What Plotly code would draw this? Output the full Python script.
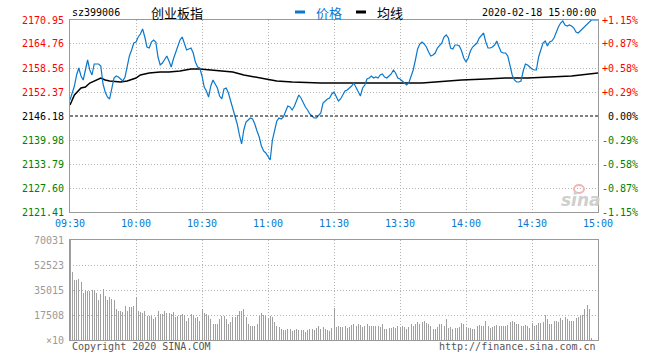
import plotly.graph_objects as go

# ---------------- data ----------------
minutes = list(range(241))  # 0 = 09:30, 120 = 11:30/13:00, 240 = 15:00

price = [
    2150.31, 2152.11, 2153.92, 2156.76, 2158.56, 2156.50, 2155.47, 2158.05, 2160.63, 2158.05,
    2156.76, 2159.60, 2159.60, 2159.60, 2159.08, 2154.44, 2152.37, 2151.08, 2150.57, 2153.66,
    2155.98, 2156.50, 2156.24, 2155.73, 2155.21, 2156.24, 2159.08, 2161.66, 2163.21, 2165.01,
    2165.27, 2166.56, 2167.34, 2168.63, 2166.56, 2163.98, 2163.72, 2165.27, 2165.79, 2165.27,
    2161.40, 2159.34, 2159.85, 2160.63, 2161.66, 2160.37, 2158.82, 2160.89, 2162.43, 2164.50,
    2165.79, 2166.56, 2165.01, 2163.21, 2163.47, 2163.72, 2162.43, 2160.11, 2158.82, 2158.56,
    2156.50, 2153.66, 2152.63, 2151.08, 2153.92, 2155.47, 2154.44, 2153.40, 2151.34, 2150.57,
    2153.15, 2153.40, 2152.11, 2150.05, 2148.24, 2145.92, 2144.12, 2141.28, 2138.96, 2142.57,
    2144.63, 2145.15, 2145.66, 2145.41, 2144.12, 2142.31, 2140.76, 2138.44, 2137.15, 2136.63,
    2135.60, 2134.83, 2139.99, 2142.83, 2144.89, 2145.66, 2145.41, 2145.92, 2147.47, 2148.76,
    2148.50, 2147.73, 2148.76, 2150.05, 2151.60, 2150.82, 2149.53, 2148.50, 2147.73, 2146.70,
    2146.18, 2145.66, 2145.66, 2146.44, 2146.95, 2149.53, 2150.05, 2150.57, 2150.82, 2151.86,
    2152.37,
    2151.34, 2150.05, 2150.57, 2151.60, 2152.63, 2152.89, 2153.40, 2153.92, 2154.69, 2153.66,
    2152.37, 2151.34, 2153.40, 2154.18, 2155.73, 2155.98, 2156.50, 2155.98, 2156.24, 2155.98,
    2156.76, 2157.02, 2156.24, 2155.98, 2156.50, 2157.02, 2158.05, 2157.27, 2155.98, 2155.73,
    2155.21, 2154.69, 2154.18, 2154.69, 2156.24, 2158.05, 2160.63, 2163.47, 2164.76, 2165.27,
    2164.76, 2163.98, 2162.69, 2161.66, 2161.92, 2162.43, 2163.72, 2164.50, 2165.01, 2166.56,
    2167.08, 2166.30, 2163.72, 2163.47, 2164.50, 2164.50, 2164.24, 2162.95, 2161.14, 2160.11,
    2161.14, 2162.95, 2163.98, 2164.50, 2165.01, 2166.30, 2166.82, 2167.59, 2165.27, 2163.72,
    2163.72, 2163.98, 2164.50, 2165.53, 2163.98, 2162.69, 2162.43, 2162.43, 2161.66, 2159.08,
    2156.76, 2155.47, 2154.95, 2154.95, 2155.21, 2157.79, 2159.60, 2159.34, 2158.82, 2158.31,
    2158.05, 2158.05, 2161.40, 2163.21, 2165.01, 2165.53, 2164.24, 2165.27, 2165.53, 2166.30,
    2167.85, 2169.14, 2170.17, 2170.69, 2169.66, 2169.40, 2169.66, 2169.40, 2168.88, 2167.85,
    2167.59, 2168.11, 2168.63, 2169.14, 2169.66, 2170.43, 2170.95, 2170.95, 2170.95, 2170.95,
]

avg_minutes = [0, 2, 5, 7, 9, 11, 14, 16, 18, 23, 26, 30, 32, 36, 41, 45, 50, 55, 59, 64,
               68, 74, 79, 85, 89, 94, 101, 114, 124, 141, 150, 160, 169, 178, 189, 198,
               208, 219, 228, 240]
avg_price = [2149.02, 2151.60, 2153.40, 2153.66, 2154.69, 2155.21, 2155.98, 2155.47, 2155.21,
             2154.95, 2155.21, 2155.98, 2156.76, 2157.27, 2157.53, 2157.53, 2157.79, 2158.31,
             2158.31, 2158.05, 2157.79, 2157.53, 2156.76, 2156.24, 2155.73, 2155.21, 2154.95,
             2154.69, 2154.69, 2154.69, 2154.69, 2154.69, 2155.08, 2155.47, 2155.73, 2155.98,
             2155.98, 2156.24, 2156.50, 2157.27]

volume = [
    70031, 47300, 42200, 41700, 43000, 40400, 33000, 35000, 34000, 34000,
    35000, 35000, 33000, 28000, 32000, 36000, 31000, 28000, 30000, 29000,
    28000, 22000, 20000, 20000, 19500, 24000, 20000, 23000, 23000, 24000,
    30000, 20000, 19500, 19000, 20000, 17000, 17000, 16500, 15000, 16000,
    20500, 18500, 18000, 20000, 19000, 19000, 18000, 19500, 16000, 16500,
    17500, 18000, 17500, 13000, 15500, 18500, 17500, 15500, 16000, 13500,
    22000, 19000, 18000, 16500, 15000, 11500, 11500, 11500, 15000, 17000,
    17000, 14500, 11000, 12500, 16000, 16000, 17500, 20000, 20000, 22000,
    16000, 11500, 9500, 9500, 9500, 11500, 17000, 19000, 17500, 17000,
    15500, 16500, 16000, 12500, 9500, 9000, 8000, 7000, 7000, 8000,
    8000, 6000, 7000, 8000, 7000, 7000, 7000, 5500, 7000, 7500,
    8000, 7000, 8500, 9500, 8000, 9000, 8000, 7000, 6500, 8500,
    22400,
    9000, 9500, 9000, 9000, 10000, 8500, 9000, 10500, 11500, 10000,
    11500, 10500, 9000, 9500, 11000, 10000, 10000, 10000, 10000, 10000,
    9000, 11000, 8000, 8000, 8500, 8500, 9000, 8500, 9500, 9000,
    10000, 9000, 8000, 9000, 11000, 10000, 11500, 12500, 11000, 12500,
    13000, 12000, 11000, 9500, 8000, 8000, 9000, 11500, 11500, 10000,
    14500, 8500, 9000, 8000, 8500, 8500, 9000, 12000, 11000, 9000,
    8500, 8500, 8000, 7500, 9500, 10500, 10000, 10000, 13500, 10000,
    8500, 9000, 9500, 10500, 9500, 10000, 10000, 9500, 10500, 12500,
    13500, 12500, 11000, 11000, 10000, 9500, 10500, 10000, 8500, 12000,
    10000, 10500, 12000, 12000, 12500, 17500, 14500, 11000, 11000, 13000,
    13500, 12500, 15500, 14000, 16000, 14500, 13500, 13000, 13000, 15500,
    16000, 16500, 17500, 21500, 24500, 21500, 1500, 0, 0, 0,
]

time_ticks = [0, 30, 60, 90, 120, 150, 180, 210, 240]
time_labels = ["09:30", "10:00", "10:30", "11:00", "11:30", "13:30", "14:00", "14:30", "15:00"]
price_ticks = [2170.95, 2164.76, 2158.56, 2152.37, 2146.18, 2139.98, 2133.79, 2127.60, 2121.41]
pct_labels = ["+1.15%", "+0.87%", "+0.58%", "+0.29%", "0.00%", "-0.29%", "-0.58%", "-0.87%", "-1.15%"]
vol_ticks = [70031, 52523, 35015, 17508, 0]
vol_labels = ["70031", "52523", "35015", "17508", "×10"]
prev_close = 2146.18

# ---------------- styling ----------------
BLUE = "#0a78cc"
RED = "#ff0000"
GREEN = "#008000"
GRID = "#b4b4b4"
BORDER = "#999999"
MONO = "DejaVu Sans Mono"
CJK = "Noto Sans CJK SC"

W, H = 660, 360
# plot area in window pixels: x 70..598, y 20..340
L, R, T, B = 70, 660 - 598, 20, 360 - 340
PW = W - L - R
PH = H - T - B


def px(xpix):
    """window x pixel -> paper coordinate"""
    return (xpix - L) / PW


def py(ypix):
    """window y pixel -> paper coordinate"""
    return (H - B - ypix) / PH


fig = go.Figure()
fig.add_trace(go.Bar(x=minutes, y=volume, xaxis="x2", yaxis="y2", width=0.45,
                     marker=dict(color="#a0a0a0", line=dict(width=0)), hoverinfo="skip"))
fig.add_trace(go.Scatter(x=avg_minutes, y=avg_price, mode="lines",
                         line=dict(color="#000000", width=1.5)))
fig.add_trace(go.Scatter(x=minutes, y=price, mode="lines",
                         line=dict(color=BLUE, width=1.2)))

axis_common = dict(showgrid=True, gridcolor=GRID, griddash="1px,2px", gridwidth=1,
                   showline=True, mirror=True, linecolor=BORDER, linewidth=1,
                   zeroline=False, showticklabels=False, ticks="", fixedrange=True)

fig.update_layout(
    width=W, height=H, autosize=False,
    margin=dict(l=L, r=R, t=T, b=B, pad=0),
    paper_bgcolor="white", plot_bgcolor="white",
    showlegend=False, bargap=0, hovermode=False,
    font=dict(family=MONO, size=10, color="#000"),
    xaxis=dict(domain=[0, 1], range=[0, 240], anchor="y", tickmode="array",
               tickvals=time_ticks, **axis_common),
    yaxis=dict(domain=[py(212), 1.0], range=[price_ticks[-1], price_ticks[0]], anchor="x",
               tickmode="array", tickvals=[v for v in price_ticks if v != prev_close],
               **axis_common),
    xaxis2=dict(domain=[0, 1], range=[0, 240], anchor="y2", tickmode="array",
                tickvals=time_ticks, **axis_common),
    yaxis2=dict(domain=[0, py(240)], range=[0, vol_ticks[0]], anchor="x2",
                tickmode="array", tickvals=vol_ticks[1:4], **axis_common),
)

# previous close dashed line
fig.add_shape(type="line", xref="x", yref="y", x0=0, x1=240, y0=prev_close, y1=prev_close,
              line=dict(color="#000", width=1, dash="3px,2px"))

ann = []
# left price labels and right percent labels
for v, p in zip(price_ticks, pct_labels):
    col = RED if v > prev_close else (GREEN if v < prev_close else "#000")
    ann.append(dict(x=0, xref="paper", y=v, yref="y", text=f"{v:.2f}", showarrow=False,
                    xanchor="right", yanchor="middle", xshift=-4,
                    font=dict(family=MONO, size=10, color=col)))
    ann.append(dict(x=px(640), xref="paper", y=v, yref="y", text=p, showarrow=False,
                    xanchor="right", yanchor="middle",
                    font=dict(family=MONO, size=10, color=col)))
# time labels
for t, lab in zip(time_ticks, time_labels):
    ann.append(dict(x=t, xref="x", y=py(223), yref="paper", text=lab, showarrow=False,
                    xanchor="center", yanchor="middle",
                    font=dict(family=MONO, size=10, color=BLUE)))
# volume labels
for v, lab in zip(vol_ticks, vol_labels):
    ann.append(dict(x=0, xref="paper", y=v, yref="y2", text=lab, showarrow=False,
                    xanchor="right", yanchor="middle", xshift=-4,
                    font=dict(family=MONO, size=10, color="#9a9a9a")))
# footer
ann.append(dict(x=0, xref="paper", y=py(346), yref="paper", text="Copyright 2020 SINA.COM",
                showarrow=False, xanchor="left", yanchor="middle",
                font=dict(family=MONO, size=10, color="#555")))
ann.append(dict(x=1, xref="paper", y=py(346), yref="paper", text="http://finance.sina.com.cn",
                showarrow=False, xanchor="right", yanchor="middle",
                font=dict(family=MONO, size=10, color="#555")))
# header
ann.append(dict(x=0, xref="paper", y=py(13), yref="paper", text="sz399006", showarrow=False,
                xanchor="left", yanchor="middle", font=dict(family=MONO, size=10, color="#000")))
ann.append(dict(x=px(177), xref="paper", y=py(13), yref="paper", text="创业板指", showarrow=False,
                xanchor="center", yanchor="middle", font=dict(family=CJK, size=13, color="#000")))
ann.append(dict(x=px(314), xref="paper", y=py(13), yref="paper", text="价格", showarrow=False,
                xanchor="left", yanchor="middle", font=dict(family=CJK, size=13, color=BLUE)))
ann.append(dict(x=px(375), xref="paper", y=py(13), yref="paper", text="均线", showarrow=False,
                xanchor="left", yanchor="middle", font=dict(family=CJK, size=13, color="#000")))
ann.append(dict(x=px(598), xref="paper", y=py(12), yref="paper", text="2020-02-18 15:00:00",
                showarrow=False, xanchor="right", yanchor="middle",
                font=dict(family=MONO, size=10, color="#000")))
# watermark
ann.append(dict(x=px(581), xref="paper", y=py(200), yref="paper", text="<b><i>sina</i></b>",
                showarrow=False, xanchor="center", yanchor="middle",
                font=dict(family="DejaVu Sans", size=17, color="#cfcfcf")))
fig.update_layout(annotations=ann)

# watermark eye (logo decoration)
fig.add_shape(type="circle", xref="paper", yref="paper", x0=px(574), x1=px(584),
              y0=py(193), y1=py(185), line=dict(color="#f0b4b4", width=2), fillcolor="rgba(0,0,0,0)")

# legend dashes
fig.add_shape(type="line", xref="paper", yref="paper", x0=px(295), x1=px(305), y0=py(12), y1=py(12),
              line=dict(color=BLUE, width=3))
fig.add_shape(type="line", xref="paper", yref="paper", x0=px(356), x1=px(366), y0=py(12), y1=py(12),
              line=dict(color="#000", width=3))

# page has a default 8px body margin; remove it so the figure fills the window exactly
fig.write_html("out.html", config={"displayModeBar": False, "staticPlot": True},
               post_script="document.body.style.margin='0';")
